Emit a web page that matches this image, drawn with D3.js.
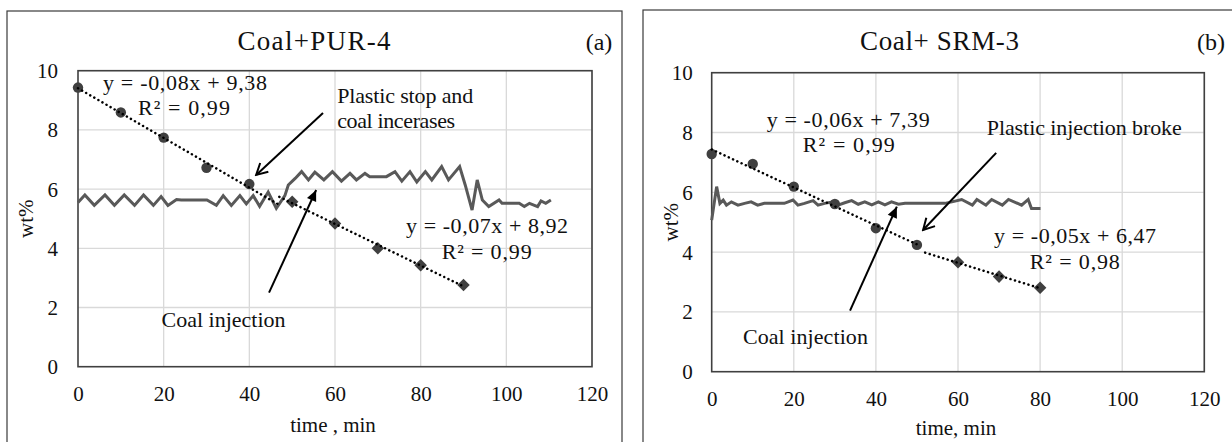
<!DOCTYPE html>
<html><head><meta charset="utf-8">
<script src="https://cdn.jsdelivr.net/npm/d3@7"></script>
<style>html,body{margin:0;padding:0;background:#fff;}svg{display:block;font-family:"Liberation Serif","DejaVu Serif",serif;}</style>
</head><body>
<svg id="chart" width="1232" height="442"></svg>
<script>
// ---------- DATA ----------
const xTicks = [0, 20, 40, 60, 80, 100, 120];
const yTicks = [0, 2, 4, 6, 8, 10];

// Panel (a) Coal+PUR-4
const aCircT = [0, 10, 20, 30, 40];
const aCircV = [9.43, 8.59, 7.74, 6.72, 6.17];
const aDiaT = [50, 60, 70, 80, 90];
const aDiaV = [5.57, 4.84, 4.00, 3.43, 2.76];
const aLineT = [0,1.6,3.8,6.3,8.5,10.8,13.2,15.3,17.6,19.4,21.0,23.0,24.1,30.1,32.3,33.9,35.8,37.8,39.3,40.9,42.4,44.4,46.3,48.3,49.1,50.7,52.2,53.8,55.3,57.4,59.4,61.5,63.5,65.0,67.0,68.1,72.0,74.0,75.6,77.5,79.1,81.1,82.6,84.9,86.5,89.1,90.4,92.0,93.2,94.4,95.9,98.3,99.0,103.0,104.2,105.4,107.3,108.1,109.2,110.4];
const aLineV = [5.55,5.8,5.45,5.8,5.45,5.8,5.45,5.8,5.45,5.75,5.45,5.65,5.63,5.63,5.45,5.78,5.45,5.78,5.5,5.78,5.42,5.9,5.35,5.78,6.14,6.36,6.59,6.31,6.57,6.31,6.59,6.27,6.53,6.31,6.53,6.42,6.42,6.59,6.27,6.59,6.24,6.59,6.31,6.76,6.31,6.76,6.14,5.29,6.31,5.63,5.41,5.63,5.52,5.52,5.41,5.52,5.41,5.6,5.52,5.63];

// Panel (b) Coal+ SRM-3
const bCircT = [0, 10, 20, 30, 40, 50];
const bCircV = [7.28, 6.95, 6.19, 5.61, 4.80, 4.24];
const bDiaT = [60, 70, 80];
const bDiaV = [3.66, 3.18, 2.81];
const bLineT = [0,1.2,2.0,2.8,3.6,4.8,6.4,8.0,9.6,11.2,12.8,17.7,19.8,21.0,22.6,24.7,25.9,27.5,29.6,30.8,32.4,34.1,35.7,37.3,39.0,40.6,42.2,43.8,45.5,47.1,48.7,56.8,58.5,60.9,63.5,64.6,66.8,68.2,70.8,72.3,75.5,77.1,77.9,80.1];
const bLineV = [5.07,6.19,5.63,5.74,5.57,5.68,5.57,5.63,5.68,5.57,5.63,5.63,5.74,5.57,5.63,5.72,5.57,5.63,5.68,5.57,5.65,5.72,5.6,5.68,5.58,5.68,5.58,5.68,5.6,5.63,5.63,5.63,5.68,5.76,5.57,5.76,5.57,5.76,5.57,5.76,5.57,5.76,5.46,5.46];

const titles = ["Coal+PUR-4", "Coal+ SRM-3"];
const tags = ["(a)", "(b)"];
const xLabels = ["time , min", "time, min"];
const yLabel = "wt%";
const aTexts = ["y = -0,08x + 9,38", "R² = 0,99", "Plastic stop and", "coal incerases", "y = -0,07x + 8,92", "R² = 0,99", "Coal injection"];
const bTexts = ["y = -0,06x + 7,39", "R² = 0,99", "Plastic injection broke", "y = -0,05x + 6,47", "R² = 0,98", "Coal injection"];

// ---------- LAYOUT (positions in data units / pixels) ----------
const panels = [
  {frame:[7,11,615,460], xr:[78,592], yr:[366.7,70.7], titleX:314, tagX:599, xlabY:432, ylabX:33, tickXdy:34, tickYx:-20,
   circT:aCircT, circV:aCircV, diaT:aDiaT, diaV:aDiaV, lineT:aLineT, lineV:aLineV, trend1:[0,47], trend2:[47,90],
   texts:[
     {t:aTexts[0], x:5.84, y:9.35, w:164},
     {t:aTexts[1], x:14.0, y:8.50, w:92},
     {t:aTexts[2], x:60.5, y:8.91, w:136},
     {t:aTexts[3], x:60.5, y:8.06, w:118},
     {t:aTexts[4], x:76.6, y:4.52, w:162},
     {t:aTexts[5], x:84.9, y:3.64, w:90},
     {t:aTexts[6], x:19.5, y:1.35, w:124}],
   arrows:[{x1:57.2,y1:8.57,x2:41.6,y2:6.48,open:true},{x1:44.6,y1:2.5,x2:55.6,y2:5.97,open:false}]},
  {frame:[643,10,620,460], xr:[711.7,1204.3], yr:[371.7,72.7], titleX:939.5, tagX:1211, xlabY:435, ylabX:678, tickXdy:34, tickYx:-19,
   circT:bCircT, circV:bCircV, diaT:bDiaT, diaV:bDiaV, lineT:bLineT, lineV:bLineV, trend1:[0,50], trend2:[52,80],
   texts:[
     {t:bTexts[0], x:13.4, y:8.18, w:163},
     {t:bTexts[1], x:22.2, y:7.35, w:92},
     {t:bTexts[2], x:67.0, y:7.92, w:195},
     {t:bTexts[3], x:68.8, y:4.30, w:162},
     {t:bTexts[4], x:77.5, y:3.43, w:90},
     {t:bTexts[5], x:7.6, y:0.93, w:125}],
   arrows:[{x1:69.3,y1:7.32,x2:51.5,y2:4.74,open:true},{x1:33.7,y1:2.04,x2:45.1,y2:5.52,open:false}]}
];

const svg = d3.select("#chart");
const defs = svg.append("defs");
defs.append("marker").attr("id","openHead").attr("viewBox","-12 -7 14 14").attr("refX",0).attr("refY",0)
  .attr("markerWidth",14).attr("markerHeight",14).attr("markerUnits","userSpaceOnUse").attr("orient","auto")
  .append("path").attr("d","M-11,-6 L0,0 L-11,6").attr("fill","none").attr("stroke","#000").attr("stroke-width",2);
defs.append("marker").attr("id","fillHead").attr("viewBox","-12 -7 14 14").attr("refX",0).attr("refY",0)
  .attr("markerWidth",14).attr("markerHeight",14).attr("markerUnits","userSpaceOnUse").attr("orient","auto")
  .append("path").attr("d","M-11,-5 L0,0 L-11,5Z").attr("fill","#000");

function fit(xs, ys){
  const n=xs.length, mx=d3.mean(xs), my=d3.mean(ys);
  let sxy=0,sxx=0; for(let i=0;i<n;i++){sxy+=(xs[i]-mx)*(ys[i]-my);sxx+=(xs[i]-mx)**2;}
  const m=sxy/sxx; return {m, b:my-m*mx};
}

panels.forEach((p,pi)=>{
  const g = svg.append("g");
  const x = d3.scaleLinear().domain([0,120]).range(p.xr);
  const y = d3.scaleLinear().domain([0,10]).range(p.yr);

  g.append("rect").attr("x",p.frame[0]).attr("y",p.frame[1]).attr("width",p.frame[2]).attr("height",p.frame[3])
    .attr("fill","#fff").attr("stroke","#3a3a3a").attr("stroke-width",1.2);

  // gridlines
  g.append("g").selectAll("line").data(yTicks.slice(1)).join("line")
    .attr("x1",p.xr[0]).attr("x2",p.xr[1]).attr("y1",d=>y(d)).attr("y2",d=>y(d))
    .attr("stroke","#d9d9d9").attr("stroke-width",1.3);
  g.append("g").selectAll("line").data(xTicks.slice(1)).join("line")
    .attr("y1",p.yr[0]).attr("y2",p.yr[1]).attr("x1",d=>x(d)).attr("x2",d=>x(d))
    .attr("stroke","#d9d9d9").attr("stroke-width",1.3);

  // axes (labels only)
  const xa = g.append("g").attr("transform",`translate(0,${p.yr[0]})`)
    .call(d3.axisBottom(x).tickValues(xTicks).tickSize(0).tickPadding(0));
  xa.select(".domain").remove();
  xa.selectAll("text").attr("dy",null).attr("y",p.tickXdy).attr("font-size",21).attr("fill","#111")
    .attr("font-family","Liberation Serif, serif");
  const ya = g.append("g").attr("transform",`translate(${p.xr[0]},0)`)
    .call(d3.axisLeft(y).tickValues(yTicks).tickSize(0).tickPadding(0));
  ya.select(".domain").remove();
  ya.selectAll("text").attr("x",p.tickYx).attr("dy","0.33em").attr("font-size",21).attr("fill","#111")
    .attr("font-family","Liberation Serif, serif");

  // plot border
  g.append("rect").attr("x",p.xr[0]).attr("y",p.yr[1]).attr("width",p.xr[1]-p.xr[0]).attr("height",p.yr[0]-p.yr[1])
    .attr("fill","none").attr("stroke","#404040").attr("stroke-width",1.6);

  // title, tag, axis labels
  g.append("text").attr("x",p.titleX).attr("y",50).attr("text-anchor","middle").attr("font-size",27)
    .attr("textLength", pi===0?153:159).attr("fill","#111").text(titles[pi]);
  g.append("text").attr("x",p.tagX).attr("y",50).attr("text-anchor","middle").attr("font-size",24).attr("fill","#111").text(tags[pi]);
  g.append("text").attr("x",(p.xr[0]+p.xr[1])/2-2).attr("y",p.xlabY).attr("text-anchor","middle").attr("font-size",21)
    .attr("fill","#111").text(xLabels[pi]);
  g.append("text").attr("transform",`translate(${p.ylabX},${(p.yr[0]+p.yr[1])/2}) rotate(-90)`)
    .attr("text-anchor","middle").attr("font-size",21).attr("fill","#111").text(yLabel);

  // zigzag line
  const lineData = p.lineT.map((t,i)=>[t,p.lineV[i]]);
  g.append("path").datum(lineData).attr("d",d3.line().x(d=>x(d[0])).y(d=>y(d[1])))
    .attr("fill","none").attr("stroke","#595959").attr("stroke-width",3).attr("stroke-linejoin","miter");

  // trendlines (least-squares fit of each marker series)
  const f1 = fit(p.circT,p.circV), f2 = fit(p.diaT,p.diaV);
  const trends = [[f1,p.trend1],[f2,p.trend2]];

  // markers
  g.append("g").selectAll("circle").data(p.circT.map((t,i)=>[t,p.circV[i]])).join("circle")
    .attr("cx",d=>x(d[0])).attr("cy",d=>y(d[1])).attr("r",5.2).attr("fill","#404040");
  const dia = d3.symbol().type(d3.symbolDiamond2).size(100);
  g.append("g").selectAll("path").data(p.diaT.map((t,i)=>[t,p.diaV[i]])).join("path")
    .attr("transform",d=>`translate(${x(d[0])},${y(d[1])})`).attr("d",dia).attr("fill","#404040");

  trends.forEach(([f,r])=>{
    g.append("line").attr("x1",x(r[0])).attr("x2",x(r[1])).attr("y1",y(f.m*r[0]+f.b)).attr("y2",y(f.m*r[1]+f.b))
      .attr("stroke","#000").attr("stroke-width",2.5).attr("stroke-linecap","round").attr("stroke-dasharray","0.1 4.6");
  });

  // annotation texts
  g.append("g").selectAll("text").data(p.texts).join("text")
    .attr("x",d=>x(d.x)).attr("y",d=>y(d.y)).attr("font-size",22).attr("fill","#111")
    .attr("textLength",d=>d.w).attr("lengthAdjust","spacing").text(d=>d.t);

  // arrows
  g.append("g").selectAll("line").data(p.arrows).join("line")
    .attr("x1",d=>x(d.x1)).attr("y1",d=>y(d.y1)).attr("x2",d=>x(d.x2)).attr("y2",d=>y(d.y2))
    .attr("stroke","#000").attr("stroke-width",2)
    .attr("marker-end",d=>d.open?"url(#openHead)":"url(#fillHead)");
});
</script>
</body></html>
